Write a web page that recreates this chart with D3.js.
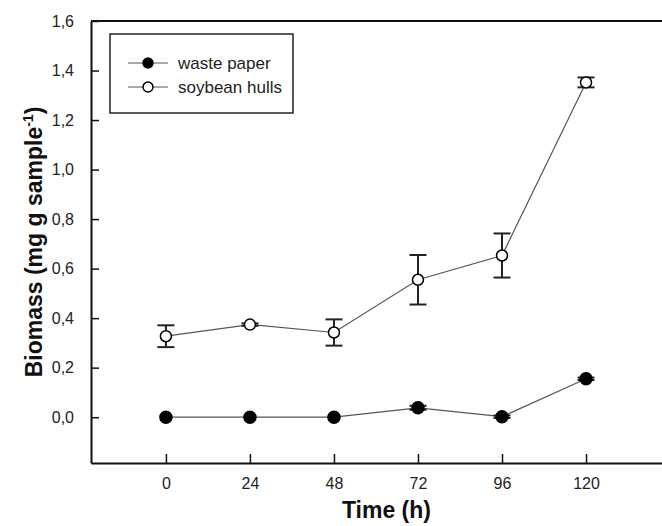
<!DOCTYPE html>
<html>
<head>
<meta charset="utf-8">
<script src="https://cdn.jsdelivr.net/npm/d3@7"></script>
<style>
    body { margin: 0; background: #fff; }
    text { font-family: "Liberation Sans", Arial, sans-serif; }
</style>
</head>
<body>
<div id="chart-container"></div>
<script>
// Sampling times (h)
const times = [0, 24, 48, 72, 96, 120];

// Biomass values and errors
const wastePaper = [0.0, 0.0, 0.0, 0.038, 0.002, 0.155];
const wastePaperErr = [0.0, 0.0, 0.0, 0.008, 0.005, 0.005];
const soybeanHulls = [0.327, 0.374, 0.342, 0.555, 0.653, 1.352];
const soybeanHullsErr = [0.044, 0.005, 0.053, 0.1, 0.089, 0.02];

const xTicks = [0, 24, 48, 72, 96, 120];
const yTicks = [0, 0.2, 0.4, 0.6, 0.8, 1.0, 1.2, 1.4, 1.6];

const width = 662;
const height = 526;

const svg = d3.select("#chart-container")
    .append("svg")
    .attr("width", width)
    .attr("height", height);

const xScale = d3.scaleLinear()
    .domain([-21.4, 141.7])
    .range([91, 662]);

const yScale = d3.scaleLinear()
    .domain([-0.185, 1.6])
    .range([463, 21]);

const commaFormat = v => d3.format(".1f")(v).replace(".", ",");

// Axes: ticks point inwards
const xAxis = d3.axisBottom(xScale)
    .tickValues(xTicks)
    .tickSizeInner(-9)
    .tickSizeOuter(0)
    .tickPadding(15);

const yAxis = d3.axisLeft(yScale)
    .tickValues(yTicks)
    .tickFormat(commaFormat)
    .tickSizeInner(-8)
    .tickSizeOuter(0)
    .tickPadding(17);

const gx = svg.append("g")
    .attr("class", "x-axis")
    .attr("transform", `translate(0, ${yScale.range()[0]})`)
    .call(xAxis);

const gy = svg.append("g")
    .attr("class", "y-axis")
    .attr("transform", `translate(${xScale.range()[0]}, 0)`)
    .call(yAxis);

[gx, gy].forEach(g => {
    g.select(".domain").attr("stroke", "#111").attr("stroke-width", 2);
    g.selectAll(".tick line").attr("stroke", "#111").attr("stroke-width", 1.5);
    g.selectAll(".tick text")
        .attr("fill", "#222")
        .attr("font-size", "16px")
        .style("font-family", "'Liberation Sans', Arial, sans-serif");
});

// Top frame line
svg.append("line")
    .attr("x1", xScale.range()[0])
    .attr("x2", xScale.range()[1])
    .attr("y1", yScale.range()[1])
    .attr("y2", yScale.range()[1])
    .attr("stroke", "#111")
    .attr("stroke-width", 2);

// Series definitions
const series = [
    { name: "waste paper", values: wastePaper, errors: wastePaperErr, fill: "#000" },
    { name: "soybean hulls", values: soybeanHulls, errors: soybeanHullsErr, fill: "#fff" }
];

const line = d3.line()
    .x(d => xScale(d.t))
    .y(d => yScale(d.v));

series.forEach(s => {
    const pts = times.map((t, i) => ({ t: t, v: s.values[i], e: s.errors[i] }));

    svg.append("path")
        .datum(pts)
        .attr("d", line)
        .attr("fill", "none")
        .attr("stroke", "#555")
        .attr("stroke-width", 1.2);

    // Error bars
    const bars = svg.append("g")
        .selectAll("g")
        .data(pts.filter(d => d.e > 0))
        .enter()
        .append("g")
        .attr("stroke", "#222")
        .attr("stroke-width", 2);

    bars.append("line")
        .attr("x1", d => xScale(d.t))
        .attr("x2", d => xScale(d.t))
        .attr("y1", d => yScale(d.v + d.e))
        .attr("y2", d => yScale(d.v - d.e));

    bars.append("line")
        .attr("x1", d => xScale(d.t) - 8.5)
        .attr("x2", d => xScale(d.t) + 8.5)
        .attr("y1", d => yScale(d.v + d.e))
        .attr("y2", d => yScale(d.v + d.e));

    bars.append("line")
        .attr("x1", d => xScale(d.t) - 8.5)
        .attr("x2", d => xScale(d.t) + 8.5)
        .attr("y1", d => yScale(d.v - d.e))
        .attr("y2", d => yScale(d.v - d.e));

    svg.append("g")
        .selectAll("circle")
        .data(pts)
        .enter()
        .append("circle")
        .attr("cx", d => xScale(d.t))
        .attr("cy", d => yScale(d.v))
        .attr("r", s.fill === "#000" ? 6 : 5.5)
        .attr("fill", s.fill)
        .attr("stroke", "#000")
        .attr("stroke-width", 1.5);
});

// Legend
const legend = svg.append("g");

legend.append("rect")
    .attr("x", 110)
    .attr("y", 34)
    .attr("width", 183)
    .attr("height", 79)
    .attr("fill", "#fff")
    .attr("stroke", "#222")
    .attr("stroke-width", 1.5);

series.forEach((s, i) => {
    const ly = 63 + i * 24;
    legend.append("line")
        .attr("x1", 128)
        .attr("x2", 168)
        .attr("y1", ly)
        .attr("y2", ly)
        .attr("stroke", "#555")
        .attr("stroke-width", 1.2);
    legend.append("circle")
        .attr("cx", 148)
        .attr("cy", ly)
        .attr("r", 5)
        .attr("fill", s.fill)
        .attr("stroke", "#000")
        .attr("stroke-width", 1.5);
    legend.append("text")
        .attr("x", 178)
        .attr("y", ly)
        .attr("dy", "0.35em")
        .attr("font-size", "17px")
        .attr("fill", "#222")
        .text(s.name);
});

// Axis titles
svg.append("text")
    .attr("x", xScale(63))
    .attr("y", 518)
    .attr("text-anchor", "middle")
    .attr("font-size", "23px")
    .attr("font-weight", "bold")
    .attr("fill", "#111")
    .text("Time (h)");

const yTitle = svg.append("text")
    .attr("transform", `translate(42, ${(yScale.range()[0] + yScale.range()[1]) / 2}) rotate(-90)`)
    .attr("text-anchor", "middle")
    .attr("font-size", "23px")
    .attr("font-weight", "bold")
    .attr("fill", "#111");

yTitle.append("tspan").text("Biomass (mg g sample");
yTitle.append("tspan").attr("font-size", "14px").attr("dy", -9).text("-1");
yTitle.append("tspan").attr("dy", 9).text(")");
</script>
</body>
</html>
